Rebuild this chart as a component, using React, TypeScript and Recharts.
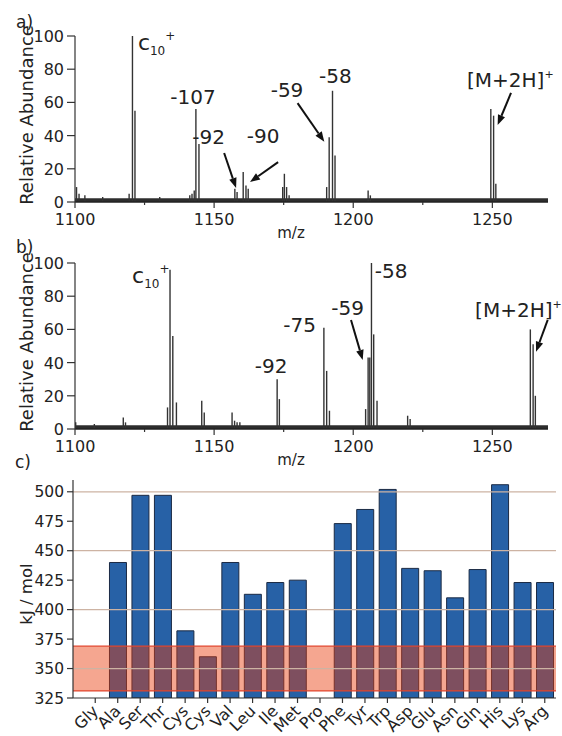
import React from 'react';
import {
  BarChart,
  Bar,
  XAxis,
  YAxis,
  ReferenceArea,
  ReferenceLine,
  ReferenceDot,
} from 'recharts';

const FONT = '"DejaVu Sans", Arial, sans-serif';
const INK = '#222';

// a) spectrum: peak positions (m/z) and relative abundance
const mzA = [1100.6, 1101.5, 1103.6, 1110, 1119.5, 1120.7, 1121.6, 1130.5, 1141.3, 1142.1, 1142.9, 1143.5, 1144.6, 1157.5, 1158.3, 1160.5, 1161.5, 1162.3, 1174.7, 1175.3, 1176.1, 1177.0, 1190.5, 1191.4, 1192.6, 1193.5, 1205.4, 1206.2, 1249.5, 1250.5, 1251.3];
const abA = [9, 5, 4, 3, 5, 100, 55, 3, 4, 5, 7, 56, 35, 8, 6, 18, 10, 8, 9, 17, 9, 4, 9, 39, 67, 28, 7, 4, 56, 52, 11];

// b) spectrum
const mzB = [1100.3, 1107, 1117.4, 1118.2, 1133.3, 1134.2, 1135.2, 1136.5, 1145.6, 1146.5, 1156.5, 1157.4, 1158.3, 1159.3, 1172.7, 1173.5, 1189.5, 1190.5, 1191.5, 1204.5, 1205.4, 1206.0, 1206.6, 1207.4, 1208.6, 1219.6, 1220.5, 1263.7, 1264.7, 1265.5];
const abB = [4, 3, 7, 4, 13, 96, 56, 16, 17, 10, 10, 5, 4, 4, 30, 18, 61, 35, 11, 12, 43, 43, 100, 57, 17, 8, 6, 60, 51, 20];

const specTicksX = [1100, 1125, 1150, 1175, 1200, 1225, 1250];
const specTicksY = [0, 10, 20, 30, 40, 50, 60, 70, 80, 90, 100];

// c) energies per residue (kJ/mol)
const residues = ['Gly', 'Ala', 'Ser', 'Thr', 'Cys', 'Cys', 'Val', 'Leu', 'Ile', 'Met', 'Pro', 'Phe', 'Tyr', 'Trp', 'Asp', 'Glu', 'Asn', 'Gln', 'His', 'Lys', 'Arg'];
const energies = [null, 440, 497, 497, 382, 360, 440, 413, 423, 425, null, 473, 485, 502, 435, 433, 410, 434, 506, 423, 423];
const energyTicks = [325, 350, 375, 400, 425, 450, 475, 500];
const gridValues = [350, 400, 450, 500];
const bandRange = [331, 369];

// annotations (data coordinates)
const notesA = [
  { text: '-107', mz: 1142.4, ab: 59 },
  { text: '-92', mz: 1148, ab: 35 },
  { text: '-90', mz: 1167.6, ab: 35.5 },
  { text: '-59', mz: 1176.2, ab: 63.3 },
  { text: '-58', mz: 1193.6, ab: 71.7 },
];
const arrowsA = [
  { from: [1153.6, 29.5], to: [1157.9, 8.4] },
  { from: [1173, 24], to: [1162.9, 12] },
  { from: [1180, 59.6], to: [1189.6, 36.3] },
  { from: [1256.7, 65.7], to: [1251.9, 46.4] },
];
const notesB = [
  { text: '-92', mz: 1170.5, ab: 33.7 },
  { text: '-75', mz: 1180.7, ab: 58.4 },
  { text: '-59', mz: 1198, ab: 68.7 },
  { text: '-58', mz: 1213.6, ab: 91 },
];
const arrowsB = [
  { from: [1199.2, 65.7], to: [1203.4, 41.6] },
  { from: [1269.9, 65.7], to: [1265.7, 46.6] },
];

const specA = mzA.map((mz, i) => ({ mz, ab: abA[i] }));
const specB = mzB.map((mz, i) => ({ mz, ab: abB[i] }));
const energyData = residues.map((name, i) => ({ name, e: energies[i] }));

const SpecYTick = (props: any) => {
  const { x, y, payload } = props;
  const major = payload.value % 20 === 0;
  return (
    <g>
      <line x1={x - (major ? 8 : 4)} x2={x} y1={y} y2={y} stroke="#333" strokeWidth={1.2} />
      {major && (
        <text x={x - 11} y={y + 6} textAnchor="end" fontSize={16} fontFamily={FONT} fill={INK}>
          {payload.value}
        </text>
      )}
    </g>
  );
};

const SpecXTick = (props: any) => {
  const { x, y, payload } = props;
  const major = payload.value % 50 === 0;
  return (
    <g>
      <line x1={x} x2={x} y1={y} y2={y + (major ? 6 : 3)} stroke="#333" strokeWidth={1.2} />
      {major && (
        <text x={x} y={y + 23} textAnchor="middle" fontSize={16} fontFamily={FONT} fill={INK}>
          {payload.value}
        </text>
      )}
    </g>
  );
};

const EnergyYTick = (props: any) => {
  const { x, y, payload } = props;
  return (
    <g>
      <line x1={x - 6} x2={x} y1={y} y2={y} stroke="#333" strokeWidth={1.2} />
      <text x={x - 9} y={y + 5.5} textAnchor="end" fontSize={15.5} fontFamily={FONT} fill={INK}>
        {payload.value}
      </text>
    </g>
  );
};

const ResidueTick = (props: any) => {
  const { x, y, payload } = props;
  const tx = x + 4;
  const ty = y + 14;
  return (
    <g>
      <line x1={x} x2={x} y1={y} y2={y + 5} stroke="#333" strokeWidth={1.2} />
      <text x={tx} y={ty} transform={`rotate(-45, ${tx}, ${ty})`} textAnchor="end" fontSize={16} fontFamily={FONT} fill={INK}>
        {payload.value}
      </text>
    </g>
  );
};

const Arrow = (props: any) => {
  const { x1, y1, x2, y2 } = props;
  const ang = Math.atan2(y2 - y1, x2 - x1);
  const len = 10;
  const w = 3.8;
  const bx = x2 - len * Math.cos(ang);
  const by = y2 - len * Math.sin(ang);
  const px = -Math.sin(ang) * w;
  const py = Math.cos(ang) * w;
  return (
    <g>
      <line x1={x1} y1={y1} x2={bx} y2={by} stroke="#111" strokeWidth={2} />
      <polygon points={`${x2},${y2} ${bx + px},${by + py} ${bx - px},${by - py}`} fill="#111" />
    </g>
  );
};

const noteShape = (text: string) => (p: any) => (
  <text x={p.cx} y={p.cy} textAnchor="middle" fontSize={20} fontFamily={FONT} fill={INK}>
    {text}
  </text>
);

const ionShape = (p: any) => (
  <text x={p.cx} y={p.cy} fontSize={22} fontFamily={FONT} fill={INK}>
    c<tspan fontSize={12} dy={5}>10</tspan>
    <tspan fontSize={12} dy={-15}>+</tspan>
  </text>
);

const parentShape = (p: any) => (
  <text x={p.cx} y={p.cy} fontSize={20} fontFamily={FONT} fill={INK}>
    [M+2H]<tspan fontSize={11} dy={-9}>+</tspan>
  </text>
);

const abundanceLabel = ({ viewBox }: any) => {
  const cx = 33;
  const cy = viewBox.y + viewBox.height / 2 - 4;
  return (
    <text x={cx} y={cy} transform={`rotate(-90, ${cx}, ${cy})`} textAnchor="middle" fontSize={18} fontFamily={FONT} fill={INK}>
      Relative Abundance
    </text>
  );
};

const mzLabel = ({ viewBox }: any) => (
  <text x={291} y={viewBox.y + 36} textAnchor="middle" fontSize={15} fontFamily={FONT} fill={INK}>
    m/z
  </text>
);

const energyLabel = ({ viewBox }: any) => {
  const cx = 32;
  const cy = viewBox.y + viewBox.height / 2 + 5;
  return (
    <text x={cx} y={cy} transform={`rotate(-90, ${cx}, ${cy})`} textAnchor="middle" fontSize={16.5} fontFamily={FONT} fill={INK}>
      kJ / mol
    </text>
  );
};

type Note = { text: string; mz: number; ab: number };
type Arr = { from: number[]; to: number[] };

const Spectrum = ({ data, notes, arrows, ion, parent }: { data: any[]; notes: Note[]; arrows: Arr[]; ion: number[]; parent: number[] }) => (
  <BarChart width={562} height={245} data={data} margin={{ top: 36, right: 14, bottom: 0, left: 0 }} barSize={1.4}>
    <XAxis
      type="number"
      dataKey="mz"
      domain={[1100, 1270]}
      ticks={specTicksX}
      allowDataOverflow
      height={43}
      tickLine={false}
      tickSize={0}
      tickMargin={0}
      tick={SpecXTick}
      axisLine={{ stroke: '#222', strokeWidth: 1.5 }}
      label={mzLabel}
    />
    <YAxis
      type="number"
      domain={[0, 100]}
      ticks={specTicksY}
      width={75}
      tickLine={false}
      tickSize={0}
      tickMargin={0}
      tick={SpecYTick}
      axisLine={{ stroke: '#333', strokeWidth: 1.2 }}
      label={abundanceLabel}
    />
    <ReferenceArea x1={1100} x2={1270} y1={0} y2={2.2} fill="#222" fillOpacity={0.95} stroke="none" ifOverflow="visible" />
    <Bar dataKey="ab" fill="#333" isAnimationActive={false} />
    {arrows.map((a, i) => (
      <ReferenceLine
        key={`ar${i}`}
        segment={[{ x: a.from[0], y: a.from[1] }, { x: a.to[0], y: a.to[1] }]}
        ifOverflow="visible"
        shape={Arrow}
      />
    ))}
    {notes.map((n, i) => (
      <ReferenceDot key={`n${i}`} x={n.mz} y={n.ab} r={0} ifOverflow="visible" shape={noteShape(n.text)} />
    ))}
    <ReferenceDot x={ion[0]} y={ion[1]} r={0} ifOverflow="visible" shape={ionShape} />
    <ReferenceDot x={parent[0]} y={parent[1]} r={0} ifOverflow="visible" shape={parentShape} />
  </BarChart>
);

const App: React.FC = () => {
  return (
    <div style={{ position: 'absolute', left: 0, top: 0, width: 562, height: 736, background: '#fff', fontFamily: FONT }}>
      <div style={{ position: 'absolute', left: 0, top: 0 }}>
        <Spectrum data={specA} notes={notesA} arrows={arrowsA} ion={[1122.6, 91.6]} parent={[1240.9, 69.3]} />
      </div>
      <div style={{ position: 'absolute', left: 0, top: 227 }}>
        <Spectrum data={specB} notes={notesB} arrows={arrowsB} ion={[1120.5, 88]} parent={[1243.8, 67.5]} />
      </div>
      <div style={{ position: 'absolute', left: 0, top: 440 }}>
        <BarChart width={562} height={296} data={energyData} margin={{ top: 40, right: 6, bottom: 0, left: 0 }} barSize={17}>
          <XAxis xAxisId="full" type="number" domain={[0, 1]} hide />
          {gridValues.map((v) => (
            <ReferenceLine key={v} xAxisId="full" y={v} stroke="#cdb3a3" strokeWidth={1.2} />
          ))}
          <XAxis
            dataKey="name"
            interval={0}
            padding={{ left: 11, right: 0 }}
            height={38}
            tickLine={false}
            tickSize={0}
            tickMargin={0}
            tick={ResidueTick}
            axisLine={{ stroke: '#333', strokeWidth: 1.2 }}
          />
          <YAxis
            type="number"
            domain={[325, 510]}
            ticks={energyTicks}
            allowDataOverflow
            width={73}
            tickLine={false}
            tickSize={0}
            tickMargin={0}
            tick={EnergyYTick}
            axisLine={{ stroke: '#333', strokeWidth: 1.2 }}
            label={energyLabel}
          />
          <Bar dataKey="e" fill="#2761a6" stroke="#1b2a44" strokeWidth={1} isAnimationActive={false} />
          <ReferenceArea xAxisId="full" y1={bandRange[0]} y2={bandRange[1]} fill="#e83a08" fillOpacity={0.45} stroke="none" zIndex={350} />
          <ReferenceLine xAxisId="full" y={bandRange[0]} stroke="#e2452c" strokeWidth={1.2} zIndex={360} />
          <ReferenceLine xAxisId="full" y={bandRange[1]} stroke="#e2452c" strokeWidth={1.2} zIndex={360} />
        </BarChart>
      </div>
      <svg width={562} height={736} style={{ position: 'absolute', left: 0, top: 0, pointerEvents: 'none' }}>
        <text x={16} y={28} fontSize={17} fontFamily={FONT} fill={INK}>a)</text>
        <text x={16} y={253} fontSize={17} fontFamily={FONT} fill={INK}>b)</text>
        <text x={15} y={468} fontSize={17} fontFamily={FONT} fill={INK}>c)</text>
      </svg>
    </div>
  );
};

export default App;
